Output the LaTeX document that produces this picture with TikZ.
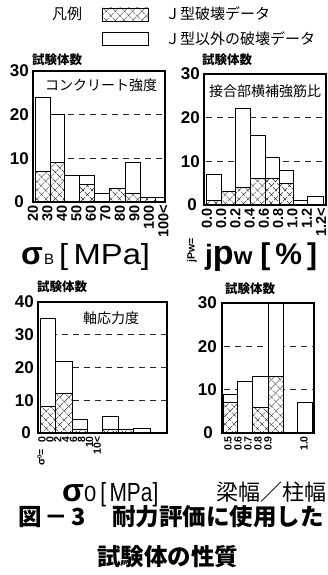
\documentclass[tikz,border=0pt]{standalone}
\usepackage{fontspec}
\usepackage{graphicx}
\setmainfont{Liberation Sans}
\newfontfamily\jp{Noto Sans CJK JP}
\usetikzlibrary{patterns.meta}
\tikzset{
  frm/.style={draw=black,line width=2.4pt},
  wbar/.style={draw=black,line width=0.9pt,fill=white},
  xbar/.style={fill=white,
    postaction={pattern={Lines[angle=45,distance=6.5pt,line width=0.6pt]}},
    postaction={pattern={Lines[angle=-45,distance=6.5pt,line width=0.6pt]}},
    postaction={draw=black,line width=0.9pt}},
  gline/.style={draw=black!85,line width=0.9pt,dash pattern=on 6pt off 5pt},
  ylab/.style={anchor=east,inner sep=0pt,font=\fontsize{17}{17}\selectfont\bfseries},
  xlab/.style={rotate=90,anchor=east,inner sep=0pt,font=\fontsize{14.5}{14.5}\selectfont\bfseries},
  xlabs/.style={rotate=90,anchor=east,inner sep=0pt,font=\fontsize{10.5}{10.5}\selectfont\bfseries},
  jtxt/.style={anchor=west,inner sep=0pt,font=\jp\fontsize{14}{14}\selectfont},
  ltxt/.style={anchor=west,inner sep=0pt,font=\jp\fontsize{15}{15}\selectfont},
  ntxt/.style={anchor=west,inner sep=0pt,font=\jp\bfseries\fontsize{12.5}{12.5}\selectfont},
  captxt/.style={anchor=west,inner sep=0pt,font=\jp\bfseries\fontsize{23.5}{23.5}\selectfont},
}
\newcommand{\mybar}[6]{%
  \pgfmathsetmacro\ytop{#3-#4*#5}%
  \pgfmathsetmacro\yhat{#3-#4*#6}%
  \ifdim #5pt>0pt \path[wbar] (#1,#3) rectangle (#2,\ytop);\fi
  \ifdim #6pt>0pt \path[xbar] (#1,#3) rectangle (#2,\yhat);\fi
}
\begin{document}
\begin{tikzpicture}[x=1pt,y=-1pt]
\useasboundingbox (0,0) rectangle (328,575);
\fill[white] (0,0) rectangle (328,575);

% legend
\node[ltxt] (leg) at (52,14) {凡例};
\path[xbar] (102,8) rectangle (148,21);
\path[wbar] (102,32) rectangle (148,45);
\node[ltxt] (legJ) at (165,14) {Ｊ型破壊データ};
\node[ltxt] (legN) at (165,38.5) {Ｊ型以外の破壊データ};

% ---------- chart 1 ----------
\node[ntxt] (n1) at (32,60) {試験体数};
\draw[gline] (35,158.3) -- (164,158.3);
\draw[gline] (35,114.7) -- (164,114.7);
\foreach \a/\b/\t/\h in {35/50/24/7,50/64/20/9,64/79/6/0,79/94/6/4,94/109/2/0,109/125/3/3,125/140/9/2,140/155/1/1,155/165/1/0}
  {\mybar{\a}{\b}{202}{4.367}{\t}{\h}}
\draw[frm] (33,71) rectangle (165,202);
\node[jtxt] (c1t) at (45,85) {コンクリート強度};
\foreach \v/\y in {30/71,20/114.7,10/158.3} \node[ylab] (c1y\v) at (29,\y) {\v};
\node[ylab] (c1y0) at (24,202) {0};
\foreach \t [count=\i from 0] in {20,30,40,50,60,70,80,90,100,100<}
  \node[xlab] (c1x\i) at ({33+14.5*\i},205) {\t};
\node[anchor=base west,inner sep=0pt] (t1) at (21,264)
  {{\fontsize{32}{32}\selectfont\bfseries σ}\hspace{1pt}{\fontsize{15}{15}\selectfont B}\hspace{5pt}\resizebox{91pt}{21pt}{[\,MPa]}};

% ---------- chart 2 ----------
\node[ntxt] (n2) at (202,60) {試験体数};
\draw[gline] (206,161.3) -- (325,161.3);
\draw[gline] (206,117.7) -- (325,117.7);
\foreach \a/\b/\t/\h in {206/221/7/1,221/235/3/3,235/250/22/4,250/265/16/6,265/279/11/6,279/293/8/5,293/307/1/0,307/323/2/0}
  {\mybar{\a}{\b}{205}{4.367}{\t}{\h}}
\draw[frm] (204,74) rectangle (326,205);
\node[jtxt] (c2t) at (209,91) {接合部横補強筋比};
\foreach \v/\y in {30/74,20/117.7,10/161.3} \node[ylab] (c2y\v) at (200,\y) {\v};
\node[ylab] (c2y0) at (197,205) {0};
\foreach \t [count=\i from 0] in {0.0,0.0,0.2,0.4,0.6,0.8,1.0,1.2,1.2<}
  \node[xlab] (c2x\i) at ({207+14.25*\i},208) {\t};
\node[xlabs] (jpweq) at (192,238) {jPw=};
\node[anchor=base west,inner sep=0pt] (t2) at (205,264)
  {{\fontsize{28}{28}\selectfont\bfseries j}{\fontsize{34}{34}\selectfont\bfseries p}{\fontsize{24}{24}\selectfont\bfseries w}\hspace{8pt}{\fontsize{30}{30}\selectfont\bfseries [\,\%\,]}};

% ---------- chart 3 ----------
\node[ntxt] (n3) at (37,287) {試験体数};
\draw[gline] (40,400.25) -- (166,400.25);
\draw[gline] (40,367.5) -- (166,367.5);
\draw[gline] (40,334.75) -- (166,334.75);
\foreach \a/\b/\t/\h in {40/55/35/8,55/72/22/12,72/87/4/1,102/118/5/1,118/133/1/1,133/150/1.5/0}
  {\mybar{\a}{\b}{433}{3.275}{\t}{\h}}
\draw[frm] (38,302) rectangle (167,433);
\node[jtxt] (c3t) at (83,318) {軸応力度};
\foreach \v/\y in {40/302,30/334.75,20/367.5,10/400.25} \node[ylab] (c3y\v) at (34,\y) {\v};
\node[ylab] (c3y0) at (31,433) {0};
\foreach \t [count=\i from 0] in {0,0,2,4,6,8,10,10<}
  \node[xlabs] (c3x\i) at ({42+7.9*\i},436) {\t};
\node[xlabs] (s0eq) at (41,449) {σ\raisebox{3pt}{\fontsize{6}{6}\selectfont 0}=};
\node[anchor=base west,inner sep=0pt] (t3) at (62,501)
  {{\fontsize{32}{32}\selectfont\bfseries σ}{\fontsize{22}{22}\selectfont 0}\hspace{4pt}\resizebox{58pt}{19pt}{[\,MPa]}};
\node[anchor=west,inner sep=0pt,font=\jp\fontsize{22}{22}\selectfont] (bw) at (216,492) {梁幅／柱幅};

% ---------- chart 4 ----------
\node[ntxt] (n4) at (225,289) {試験体数};
\draw[gline] (224,389.7) -- (313,389.7);
\draw[gline] (224,346.3) -- (313,346.3);
\foreach \a/\b/\t/\h in {223/237/9/7,237/252/12/0,252/268/13/6,268/283/30/13,297/312/7/0}
  {\mybar{\a}{\b}{433}{4.333}{\t}{\h}}
\draw[frm] (222,303) rectangle (314,433);
\foreach \v/\y in {30/303,20/346.3,10/389.7} \node[ylab] (c4y\v) at (217,\y) {\v};
\node[ylab] (c4y0) at (213,433) {0};
\foreach \t/\x [count=\i] in {0.5/228,0.6/238,0.7/248,0.8/258,0.9/268,1.0/304}
  \node[xlabs] (c4x\i) at (\x,436) {\t};

% ---------- caption ----------
\node[captxt] (cap1a) at (18,517) {図\hspace{3pt}－\hspace{3pt}3};
\node[captxt] (cap1b) at (112,517) {耐力評価に使用した};
\node[captxt] (cap2) at (97,557) {試験体の性質};
\end{tikzpicture}
\end{document}
